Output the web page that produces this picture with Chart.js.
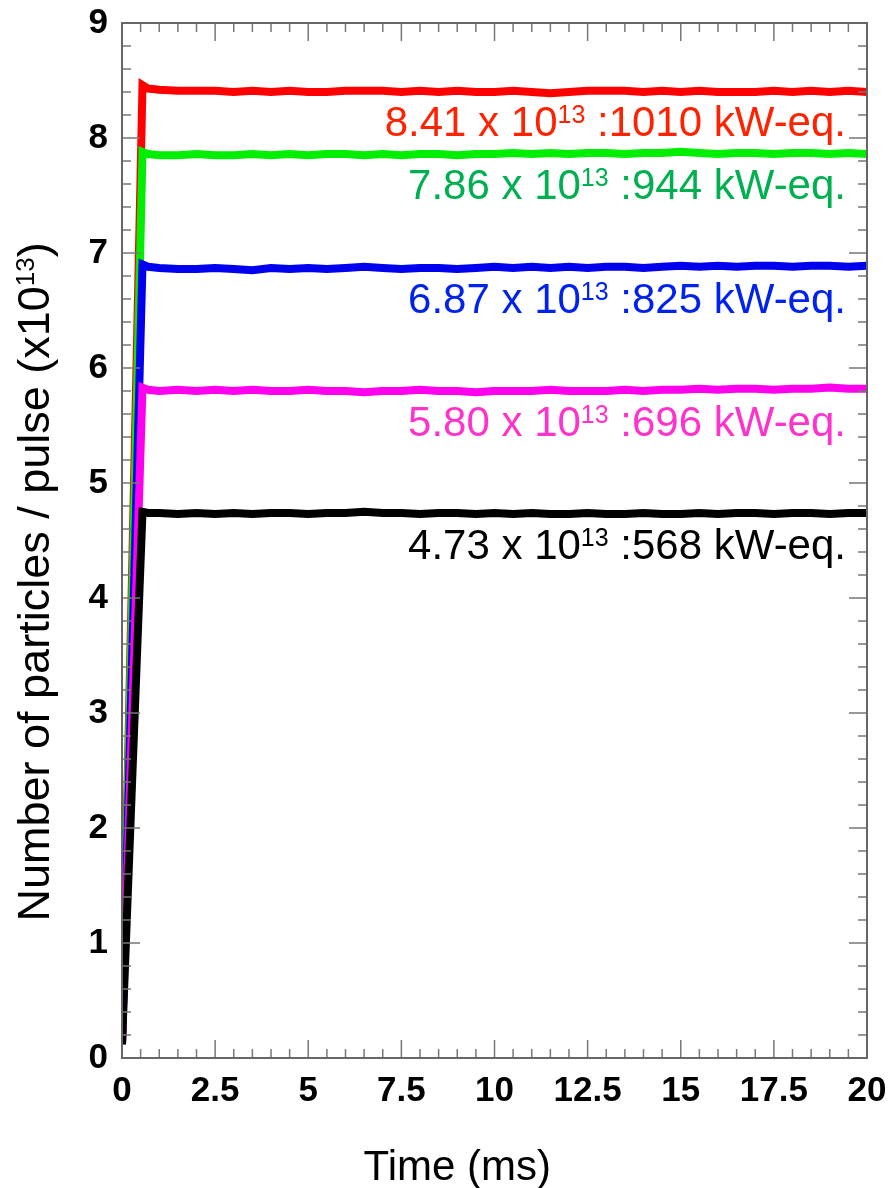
<!DOCTYPE html>
<html lang="en">
<head>
    <meta charset="UTF-8">
    <title>Particles per pulse</title>
    <style>
        body {
            margin: 0;
            padding: 0;
            background-color: #fff;
        }

        #wrap {
            width: 889px;
            height: 1188px;
            position: relative;
        }
    </style>
    <script src="https://cdn.jsdelivr.net/npm/chart.js"></script>
</head>
<body>
    <div id="wrap">
        <canvas id="pulseChart"></canvas>
    </div>

    <script>
        // time axis (ms) shared by all the traces
        const times = [0, 0.55, 0.7, 1, 1.5, 2, 2.5, 3, 3.5, 4, 4.5, 5, 5.5, 6, 6.5, 7, 7.5, 8, 8.5, 9, 9.5,
            10, 10.5, 11, 11.5, 12, 12.5, 13, 13.5, 14, 14.5, 15, 15.5, 16, 16.5, 17, 17.5, 18, 18.5, 19, 19.5, 20];

        // particles per pulse (x10^13)
        const red = [0.12, 8.46, 8.43, 8.42, 8.41, 8.41, 8.41, 8.40, 8.41, 8.40, 8.41, 8.40, 8.40, 8.41, 8.41, 8.41, 8.40, 8.41, 8.40, 8.41, 8.40,
            8.40, 8.41, 8.40, 8.39, 8.40, 8.41, 8.41, 8.41, 8.40, 8.41, 8.40, 8.41, 8.40, 8.40, 8.40, 8.41, 8.40, 8.41, 8.40, 8.41, 8.40];
        const green = [0.12, 7.88, 7.86, 7.85, 7.85, 7.86, 7.85, 7.85, 7.86, 7.85, 7.86, 7.85, 7.86, 7.86, 7.85, 7.86, 7.85, 7.86, 7.86, 7.85, 7.86,
            7.86, 7.87, 7.86, 7.87, 7.86, 7.87, 7.87, 7.86, 7.87, 7.87, 7.88, 7.87, 7.86, 7.87, 7.87, 7.86, 7.87, 7.87, 7.86, 7.87, 7.86];
        const blue = [0.12, 6.90, 6.88, 6.87, 6.86, 6.86, 6.87, 6.86, 6.85, 6.87, 6.86, 6.87, 6.86, 6.87, 6.88, 6.87, 6.86, 6.87, 6.87, 6.86, 6.87,
            6.88, 6.87, 6.88, 6.87, 6.88, 6.87, 6.88, 6.88, 6.87, 6.88, 6.89, 6.88, 6.89, 6.88, 6.89, 6.89, 6.88, 6.89, 6.89, 6.88, 6.89];
        const magenta = [0.12, 5.83, 5.81, 5.80, 5.81, 5.80, 5.81, 5.80, 5.81, 5.80, 5.80, 5.81, 5.80, 5.80, 5.79, 5.80, 5.80, 5.81, 5.80, 5.80, 5.79,
            5.80, 5.80, 5.80, 5.81, 5.80, 5.80, 5.80, 5.81, 5.80, 5.81, 5.81, 5.82, 5.81, 5.82, 5.82, 5.81, 5.82, 5.82, 5.83, 5.82, 5.82];
        const black = [0.12, 4.75, 4.74, 4.74, 4.73, 4.74, 4.73, 4.74, 4.73, 4.74, 4.74, 4.73, 4.74, 4.74, 4.75, 4.74, 4.74, 4.73, 4.74, 4.74, 4.73,
            4.74, 4.73, 4.74, 4.73, 4.73, 4.74, 4.73, 4.73, 4.74, 4.73, 4.73, 4.74, 4.73, 4.74, 4.74, 4.73, 4.74, 4.74, 4.73, 4.74, 4.74];

        // labels written next to each trace
        const labelLevels = [8.41, 7.86, 6.87, 5.80, 4.73];
        const labelPowers = ['1010', '944', '825', '696', '568'];

        const xTickLabels = ['0', '2.5', '5', '7.5', '10', '12.5', '15', '17.5', '20'];
        const yTickLabels = ['0', '1', '2', '3', '4', '5', '6', '7', '8', '9'];

        const lineColors = ['#ff0000', '#00ee00', '#0000ee', '#ff00ee', '#000000'];
        const textColors = ['#ff2200', '#00b050', '#0022ee', '#ff33cc', '#000000'];

        function toPoints(values) {
            return values.map((v, i) => ({ x: times[i], y: v }));
        }

        // frame, inward ticks, axis titles and the trace labels
        const decorations = {
            id: 'decorations',
            afterDraw(chart) {
                const ctx = chart.ctx;
                const area = chart.chartArea;
                const xs = chart.scales.x;
                const ys = chart.scales.y;
                ctx.save();

                // minor / major ticks pointing into the plot
                ctx.strokeStyle = '#777';
                ctx.lineWidth = 1.5;
                ctx.beginPath();
                for (let i = 0; i <= 40; i++) {
                    const px = xs.getPixelForValue(i * 0.5);
                    const len = i % 5 === 0 ? 18 : 9;
                    ctx.moveTo(px, area.bottom);
                    ctx.lineTo(px, area.bottom - len);
                    ctx.moveTo(px, area.top);
                    ctx.lineTo(px, area.top + len);
                }
                for (let i = 0; i <= 45; i++) {
                    const py = ys.getPixelForValue(i * 0.2);
                    const len = i % 5 === 0 ? 18 : 9;
                    ctx.moveTo(area.left, py);
                    ctx.lineTo(area.left + len, py);
                    ctx.moveTo(area.right, py);
                    ctx.lineTo(area.right - len, py);
                }
                ctx.stroke();

                ctx.strokeStyle = '#666';
                ctx.lineWidth = 2;
                ctx.strokeRect(area.left, area.top, area.right - area.left, area.bottom - area.top);

                // trace labels, right aligned
                const big = '42px "Liberation Sans", Arial, sans-serif';
                const small = '25px "Liberation Sans", Arial, sans-serif';
                ctx.textBaseline = 'alphabetic';
                ctx.textAlign = 'left';
                labelLevels.forEach((lvl, i) => {
                    const p1 = lvl.toFixed(2) + ' x 10';
                    const sup = '13';
                    const p2 = ' :' + labelPowers[i] + ' kW-eq.';
                    ctx.font = big;
                    const w1 = ctx.measureText(p1).width;
                    const w3 = ctx.measureText(p2).width;
                    ctx.font = small;
                    const w2 = ctx.measureText(sup).width;
                    const right = area.right - 21;
                    const base = ys.getPixelForValue(lvl) + 45;
                    let x = right - (w1 + w2 + w3);
                    ctx.fillStyle = textColors[i];
                    ctx.font = big;
                    ctx.fillText(p1, x, base);
                    x += w1;
                    ctx.font = small;
                    ctx.fillText(sup, x, base - 13);
                    x += w2;
                    ctx.font = big;
                    ctx.fillText(p2, x, base);
                });

                // x axis title
                ctx.fillStyle = '#000';
                ctx.font = '42px "Liberation Sans", Arial, sans-serif';
                ctx.textAlign = 'center';
                ctx.fillText('Time (ms)', area.left + (area.right - area.left) * 0.45, chart.height - 8);

                // y axis title with superscript
                const t1 = 'Number of particles / pulse (x10';
                const t2 = '13';
                const t3 = ')';
                ctx.font = '45px "Liberation Sans", Arial, sans-serif';
                const a = ctx.measureText(t1).width;
                const c = ctx.measureText(t3).width;
                ctx.font = '26px "Liberation Sans", Arial, sans-serif';
                const b = ctx.measureText(t2).width;
                ctx.translate(49, area.top + (area.bottom - area.top) * 0.54);
                ctx.rotate(-Math.PI / 2);
                ctx.textAlign = 'left';
                let tx = -(a + b + c) / 2;
                ctx.font = '45px "Liberation Sans", Arial, sans-serif';
                ctx.fillText(t1, tx, 0);
                tx += a;
                ctx.font = '26px "Liberation Sans", Arial, sans-serif';
                ctx.fillText(t2, tx, -15);
                tx += b;
                ctx.font = '45px "Liberation Sans", Arial, sans-serif';
                ctx.fillText(t3, tx, 0);

                ctx.restore();
            }
        };

        const series = [black, magenta, blue, green, red];
        const colorOrder = [4, 3, 2, 1, 0];

        const ctx = document.getElementById('pulseChart').getContext('2d');
        const pulseChart = new Chart(ctx, {
            type: 'line',
            data: {
                datasets: series.map((s, i) => ({
                    data: toPoints(s),
                    borderColor: lineColors[colorOrder[i]],
                    borderWidth: 8,
                    pointRadius: 0,
                    tension: 0,
                    fill: false
                }))
            },
            options: {
                responsive: true,
                maintainAspectRatio: false,
                animation: false,
                layout: {
                    padding: { top: 23, right: 22, left: 0, bottom: 0 }
                },
                plugins: {
                    legend: { display: false },
                    tooltip: { enabled: false }
                },
                scales: {
                    x: {
                        type: 'linear',
                        min: 0,
                        max: 20,
                        border: { display: false },
                        grid: { display: false, drawTicks: false },
                        ticks: {
                            stepSize: 2.5,
                            autoSkip: false,
                            maxRotation: 0,
                            padding: 12,
                            color: '#000',
                            font: { family: '"Liberation Sans Narrow", "Liberation Sans", Arial', size: 35, weight: 'bold' },
                            callback: (v) => xTickLabels[Math.round(v / 2.5)]
                        },
                        afterFit: (s) => {
                            s.height = 130;
                            s.paddingLeft = 0;
                            s.paddingRight = 0;
                        }
                    },
                    y: {
                        min: 0,
                        max: 9,
                        border: { display: false },
                        grid: { display: false, drawTicks: false },
                        ticks: {
                            stepSize: 1,
                            padding: 14,
                            color: '#000',
                            font: { family: '"Liberation Sans", Arial', size: 35, weight: 'bold' },
                            callback: (v) => yTickLabels[Math.round(v)]
                        },
                        afterFit: (s) => {
                            s.width = 122;
                            s.paddingTop = 0;
                            s.paddingBottom = 0;
                        }
                    }
                }
            },
            plugins: [decorations]
        });
    </script>
</body>
</html>
